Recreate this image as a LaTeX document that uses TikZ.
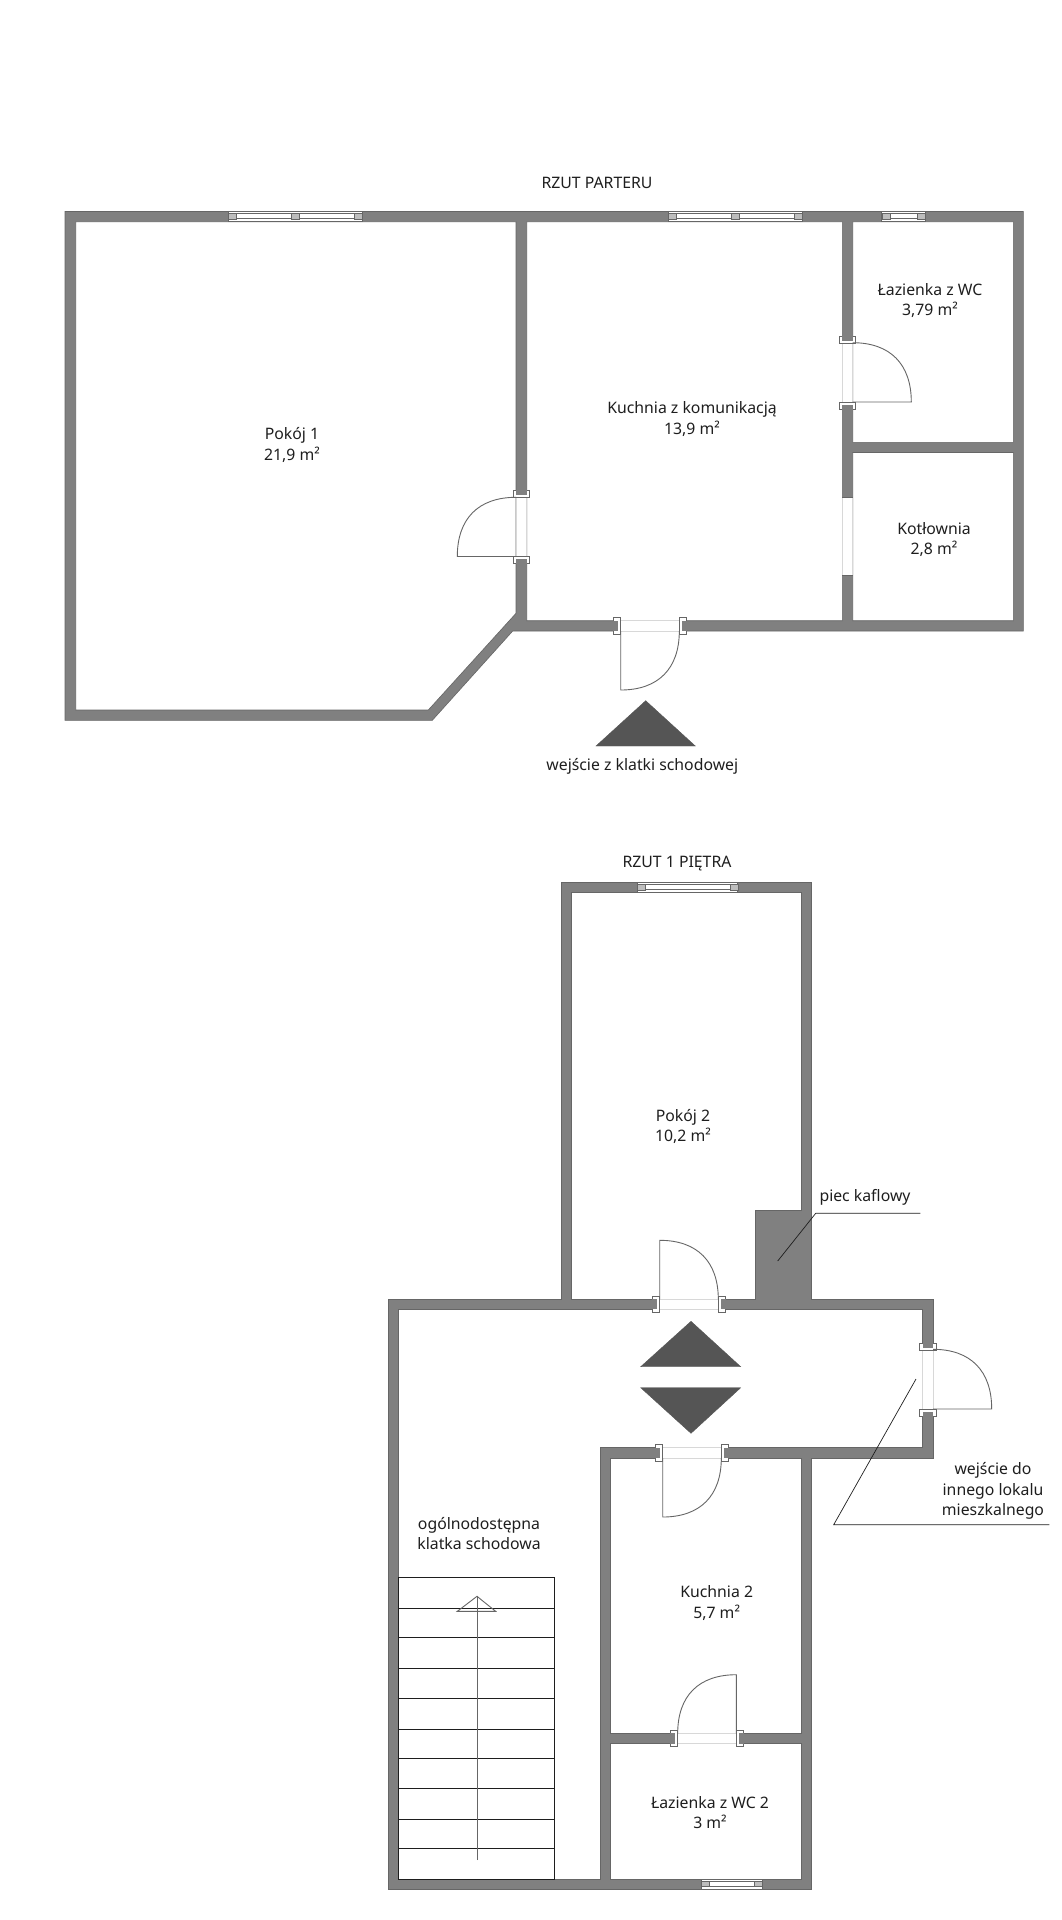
\documentclass[tikz,border=0pt]{standalone}
\usepackage{fontspec}
\setmainfont{Noto Sans}
\definecolor{wallc}{HTML}{808080}
\definecolor{edgec}{HTML}{666666}
\definecolor{darkc}{HTML}{555555}
\definecolor{gapc}{HTML}{D8D8D8}
\definecolor{blockc}{HTML}{BDBDBD}
\definecolor{inkc}{HTML}{1E1E1E}
\tikzset{
  wall/.style={fill=wallc,draw=edgec,line width=.6pt,even odd rule},
  wallpiece/.style={fill=wallc,draw=none},
  jamb/.style={fill=white,draw=edgec,line width=.8pt},
  gapline/.style={draw=gapc,line width=.8pt},
  leafline/.style={draw=edgec,line width=.9pt},
  tri/.style={fill=darkc,draw=darkc,line width=.4pt},
  winframe/.style={fill=white,draw=edgec,line width=.7pt},
  winblock/.style={fill=blockc,draw=edgec,line width=.4pt},
  leader/.style={draw=inkc,line width=.7pt},
  stair/.style={draw=inkc,line width=.8pt},
  lbl/.style={font=\fontsize{15.8}{20.5}\selectfont,text=inkc,inner sep=0pt,align=center,yshift=-1.2pt}
}
% vertical-wall door: x1 x2 y1 y2
\newcommand{\doorV}[4]{
  \fill[white] (#1,#3) rectangle (#2,#4);
  \draw[gapline] (#1,#3) -- (#1,#4) (#2,#3) -- (#2,#4);
  \draw[jamb] ({#1-3},{#3-7}) rectangle ({#2+3},#3);
  \fill[wallpiece] (#1,{#3-7.5}) rectangle (#2,{#3-2.5});
  \draw[jamb] ({#1-3},#4) rectangle ({#2+3},{#4+7});
  \fill[wallpiece] (#1,{#4+2.5}) rectangle (#2,{#4+7.5});
}
% horizontal-wall door: y1 y2 x1 x2
\newcommand{\doorH}[4]{
  \fill[white] (#3,#1) rectangle (#4,#2);
  \draw[gapline] (#3,#1) -- (#4,#1) (#3,#2) -- (#4,#2);
  \draw[jamb] ({#3-7},{#1-3}) rectangle (#3,{#2+3});
  \fill[wallpiece] ({#3-7.5},#1) rectangle ({#3-2.5},#2);
  \draw[jamb] (#4,{#1-3}) rectangle ({#4+7},{#2+3});
  \fill[wallpiece] ({#4+2.5},#1) rectangle ({#4+7.5},#2);
}
% leaf: hinge x,y; tip x,y; arc end x,y
\newcommand{\leaf}[6]{
  \draw[leafline] (#1,#2) -- (#3,#4)
    .. controls ({#3+.64*(#5-#1)},{#4+.64*(#6-#2)}) and ({#5+.64*(#3-#1)},{#6+.64*(#4-#2)}) .. (#5,#6);
}
% window: x1 x2 ytop ybot
\newcommand{\winH}[4]{
  \draw[winframe] (#1,#3) rectangle (#2,#4);
  \draw[winframe] (#1,{#3+2}) rectangle (#2,{#4-3});
  \draw[winblock] (#1,{#3+2}) rectangle ({#1+8},{#4-3});
  \draw[winblock] ({#2-8},{#3+2}) rectangle (#2,{#4-3});
}
\newcommand{\mull}[3]{
  \draw[winblock] ({#1-4},{#2+2}) rectangle ({#1+4},{#3-3});
}
\begin{document}
\begin{tikzpicture}[x=1pt,y=-1pt]
\useasboundingbox (0,0) rectangle (1061,1920);
\fill[white] (0,0) rectangle (1061,1920);

% ground floor walls
\draw[wall]
  (65,211.5) -- (1023.3,211.5) -- (1023.3,631) -- (512.7,631) -- (432.3,720.3) -- (65,720.3) -- cycle
  (75.7,221.7) -- (516,221.7) -- (516,613.3) -- (428.3,710) -- (75.7,710) -- cycle
  (526.7,221.7) -- (842.3,221.7) -- (842.3,620.7) -- (526.7,620.7) -- cycle
  (852.7,221.7) -- (1013.3,221.7) -- (1013.3,442.3) -- (852.7,442.3) -- cycle
  (852.7,452.5) -- (1013.3,452.5) -- (1013.3,620.7) -- (852.7,620.7) -- cycle;

% ground floor windows
\winH{228.3}{362.3}{211.5}{221.7}\mull{295.3}{211.5}{221.7}
\winH{668.5}{802.3}{211.5}{221.7}\mull{735.4}{211.5}{221.7}
\winH{881.7}{925.3}{211.5}{221.7}

% ground floor doors
\doorV{516}{526.7}{497.3}{556.5}
\leaf{516}{556.5}{457.3}{556.5}{516}{497.3}
\doorV{842.3}{852.7}{343.3}{402}
\leaf{852.7}{402}{911.3}{402}{852.7}{342.7}
\doorH{620.7}{631}{620.7}{679.3}
\leaf{620.7}{631}{620.7}{690}{679.3}{631}

% open passage to boiler room
\fill[white] (842.3,497.7) rectangle (852.7,575.7);
\draw[gapline] (842.3,497.7) -- (842.3,575.7) (852.7,497.7) -- (852.7,575.7);
\draw[draw=edgec,line width=.6pt] (842.3,497.7) -- (852.7,497.7) (842.3,575.7) -- (852.7,575.7);

% entrance marker
\draw[tri] (645.7,700.7) -- (695.3,746) -- (596,746) -- cycle;

% first floor walls
\draw[wall]
  (561.3,882) -- (811.7,882) -- (811.7,1299.3) -- (933,1299.3) -- (933,1458) -- (811.3,1458) -- (811.3,1889.3) -- (388,1889.3) -- (388,1299.3) -- (561.3,1299.3) -- cycle
  (571.7,892.7) -- (801,892.7) -- (801,1210.7) -- (755,1210.7) -- (755,1299.3) -- (571.7,1299.3) -- cycle
  (398.3,1309.3) -- (922.7,1309.3) -- (922.7,1447.7) -- (600.3,1447.7) -- (600.3,1879) -- (398.3,1879) -- cycle
  (610.7,1458) -- (801.3,1458) -- (801.3,1733.3) -- (610.7,1733.3) -- cycle
  (610.7,1743.7) -- (801.3,1743.7) -- (801.3,1879) -- (610.7,1879) -- cycle;

% first floor windows
\winH{637.3}{737.7}{882}{892.7}
\winH{701}{762}{1879}{1889.3}

% first floor doors
\doorH{1299.3}{1309.3}{659.7}{718.3}
\leaf{659.7}{1299.3}{659.7}{1240.3}{718.3}{1299.3}
\doorV{922.7}{933}{1350}{1409}
\leaf{933}{1409}{991.7}{1409}{933}{1349.3}
\doorH{1447.7}{1458}{662.7}{721.3}
\leaf{662.7}{1458}{662.7}{1517}{721.3}{1458}
\doorH{1733.3}{1743.7}{677.7}{736.3}
\leaf{736.3}{1733.3}{736.3}{1674.7}{677.7}{1733.3}

% direction markers
\draw[tri] (691,1321.3) -- (740.7,1366.7) -- (640.7,1366.7) -- cycle;
\draw[tri] (640.7,1387.7) -- (740.7,1387.7) -- (691,1433.3) -- cycle;

% stairs
\draw[stair] (398.3,1577.7) rectangle (554.3,1879);
\foreach \yy in {1608,1637.7,1668,1698.3,1729,1758.3,1788.7,1819.3,1848.7}
  \draw[stair] (398.3,\yy) -- (554.3,\yy);
\draw[draw=edgec,line width=.9pt] (477,1860) -- (477,1596.3);
\draw[draw=edgec,line width=.9pt] (477,1596.3) -- (495.7,1611.3) -- (457.3,1611.3) -- cycle;

% leaders
\coordinate (pk1) at (920.3,1213.3);
\coordinate (pk2) at (815.7,1213.3);
\coordinate (pk3) at (777.7,1261);
\draw[leader] (pk1) -- (pk2) -- (pk3);
\coordinate (we1) at (1049.3,1524.7);
\coordinate (we2) at (833.7,1524.7);
\coordinate (we3) at (916,1379);
\draw[leader] (we1) -- (we2) -- (we3);

% labels
\node[lbl] (tp) at (597,182) {RZUT PARTERU};
\node[lbl] (t1) at (677,862) {RZUT 1 PIĘTRA};
\node[lbl] (r1) at (292,444) {Pokój 1\\21,9 m²};
\node[lbl] (r2) at (692,418) {Kuchnia z komunikacją\\13,9 m²};
\node[lbl] (r3) at (930,299.5) {Łazienka z WC\\3,79 m²};
\node[lbl] (r4) at (934,538.5) {Kotłownia\\2,8 m²};
\node[lbl] (e1) at (642.3,765) {wejście z klatki schodowej};
\node[lbl] (r5) at (683,1125.5) {Pokój 2\\10,2 m²};
\node[lbl] (pk) at (865,1196) {piec kaflowy};
\node[lbl] (e2) at (993,1490) {wejście do\\innego lokalu\\mieszkalnego};
\node[lbl] (kl) at (479,1532.5) {ogólnodostępna\\klatka schodowa};
\node[lbl] (r6) at (716.7,1602) {Kuchnia 2\\5,7 m²};
\node[lbl] (r7) at (710,1811.5) {Łazienka z WC 2\\3 m²};
\end{tikzpicture}
\end{document}
